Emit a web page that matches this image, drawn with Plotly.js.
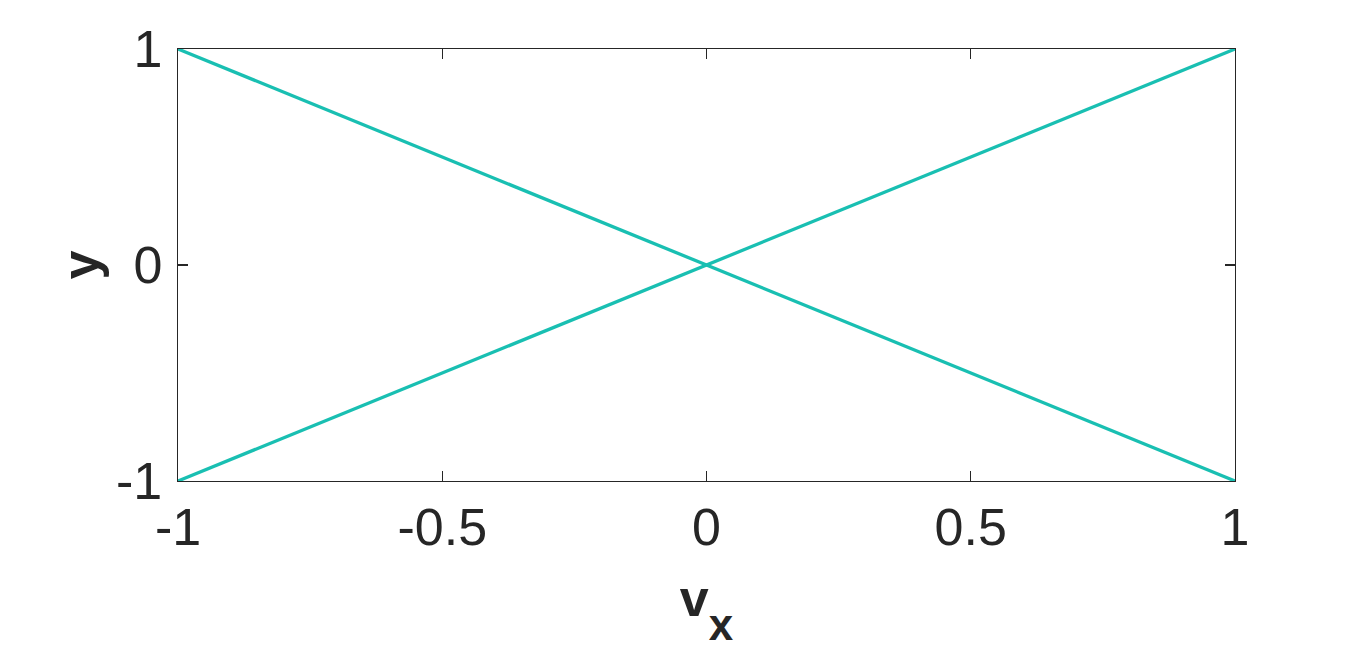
<!DOCTYPE html>
<html>
<head>
<meta charset="utf-8">
<script src="https://cdn.plot.ly/plotly-3.0.1.min.js"></script>
<style>html,body{margin:0;padding:0;background:#fff;}#chart{width:1366px;height:651px;}</style>
</head>
<body>
<div id="chart"></div>
<script>
const vx = [-1, 0, 1];
const yRising = [-1, 0, 1];
const yFalling = [1, 0, -1];
const xTicks = [-1, -0.5, 0, 0.5, 1];
const xTickLabels = ['-1', '-0.5', '0', '0.5', '1'];
const yTicks = [-1, 0, 1];
const yTickLabels = ['-1', '0', '1'];

const lineColor = '#19bfb2';
const fontFam = 'Liberation Sans, Arial, sans-serif';
const traces = [
  {x: vx, y: yFalling, mode: 'lines', line: {color: lineColor, width: 3.3}, hoverinfo: 'skip'},
  {x: vx, y: yRising, mode: 'lines', line: {color: lineColor, width: 3.3}, hoverinfo: 'skip'}
];
const axisCommon = {
  showgrid: false, zeroline: false, showline: true, mirror: 'ticks',
  linecolor: '#262626', linewidth: 1.3, ticks: 'inside', ticklen: 10, tickwidth: 1.3,
  tickcolor: '#262626', tickfont: {family: fontFam, size: 52, color: '#262626'}
};
const layout = {
  width: 1366, height: 651,
  margin: {l: 178, r: 131, t: 49, b: 170},
  paper_bgcolor: '#fff', plot_bgcolor: '#fff',
  showlegend: false,
  xaxis: Object.assign({}, axisCommon, {
    range: [-1, 1], tickvals: xTicks, ticktext: xTickLabels, ticklabelstandoff: 0,
    title: {text: '<b>v<sub><sub><sub><span style="font-size:246%">x</span></sub></sub></sub></b>', font: {family: fontFam, size: 52, color: '#262626'}, standoff: 25}
  }),
  yaxis: Object.assign({}, axisCommon, {
    range: [-1, 1], tickvals: yTicks, ticktext: yTickLabels, ticklabelstandoff: 4,
    title: {text: '<b>y</b>', font: {family: fontFam, size: 52, color: '#262626'}, standoff: 0}
  })
};
Plotly.newPlot('chart', traces, layout, {staticPlot: true, displayModeBar: false});
</script>
</body>
</html>
